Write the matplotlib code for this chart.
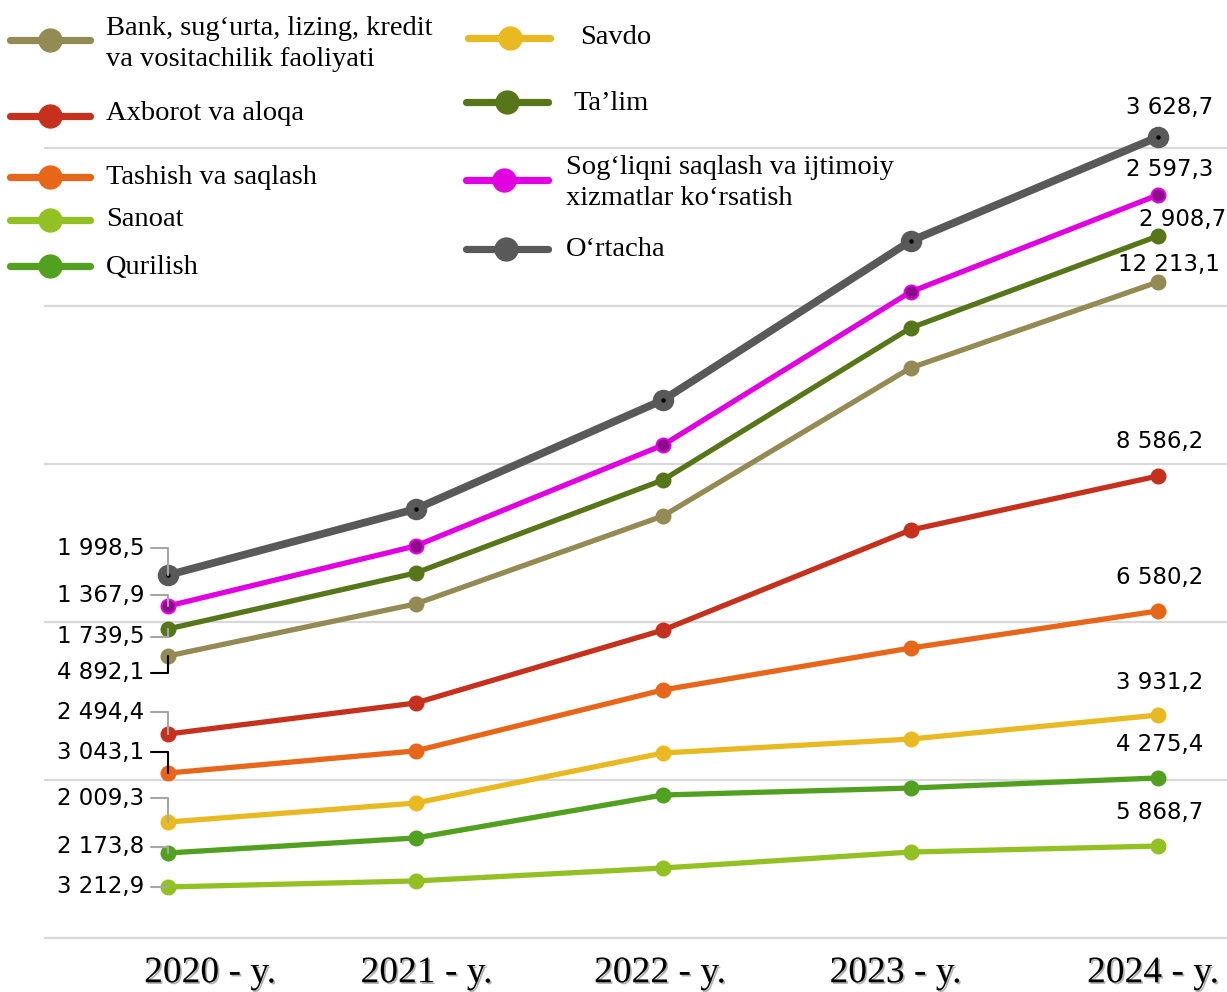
import matplotlib
matplotlib.use("Agg")
import matplotlib.pyplot as plt
import matplotlib.patheffects as pe

# ---------------- data ----------------
years = ["2020 - y.", "2021 - y.", "2022 - y.", "2023 - y.", "2024 - y."]

series_names = [
    "Bank, sug\u2018urta, lizing, kredit\nva vositachilik faoliyati",
    "Axborot va aloqa",
    "Tashish va saqlash",
    "Sanoat",
    "Qurilish",
    "Savdo",
    "Ta\u2019lim",
    "Sog\u2018liqni saqlash va ijtimoiy\nxizmatlar ko\u2018rsatish",
    "O\u2018rtacha",
]

# chart positions (as drawn in the picture, arbitrary units)
bank     = [1.785, 2.114, 2.671, 3.608, 4.152]
axborot  = [1.291, 1.487, 1.949, 2.582, 2.924]
tashish  = [1.044, 1.184, 1.570, 1.835, 2.070]
sanoat   = [0.323, 0.361, 0.443, 0.544, 0.582]
qurilish = [0.538, 0.633, 0.905, 0.949, 1.013]
savdo    = [0.734, 0.854, 1.171, 1.259, 1.411]
talim    = [1.956, 2.310, 2.899, 3.861, 4.443]
sogliq   = [2.101, 2.481, 3.120, 4.089, 4.703]
ortacha  = [2.297, 2.715, 3.405, 4.411, 5.070]

series_values = [bank, axborot, tashish, sanoat, qurilish, savdo, talim, sogliq, ortacha]

start_labels = ["4 892,1", "2 494,4", "3 043,1", "3 212,9", "2 173,8",
                "2 009,3", "1 739,5", "1 367,9", "1 998,5"]
end_labels = ["12 213,1", "8 586,2", "6 580,2", "5 868,7", "4 275,4",
              "3 931,2", "2 908,7", "2 597,3", "3 628,7"]

# ---------------- styles ----------------
colors = ["#948a54", "#c5311c", "#e8661a", "#93c123", "#52a020",
          "#e8b920", "#57761a", "#e000e0", "#595959"]
line_w = [3.8, 3.8, 3.8, 3.8, 3.8, 3.8, 3.8, 3.8, 5.6]
mark_s = [10, 10, 10, 10, 10, 10, 10, 10, 14]
mark_face = [None] * 7 + ["#8b0b8b", None]

# label offsets in pixels (dx, dy)
start_off = [(-24, -17), (-24, 22), (-24, 21), (-24, 0), (-24, 6),
             (-24, 24), (-24, -8), (-24, 11), (-24, 27)]
leader_col = ["black", "#a6a6a6", "black", "#a6a6a6", "#a6a6a6",
              "#a6a6a6", "#a6a6a6", "#a6a6a6", "#a6a6a6"]
end_off = [(11, 17), (2, 35), (2, 33), (2, 34), (2, 33),
           (2, 33), (25, 17), (12, 25), (12, 29)]
year_dx = [42, 11, -3, -15, -5]

# legend layout (figure pixels): handle x0, x1, marker x, handle y, text x, text y
legend_layout = [
    (10, 90, 50, 40, 106, 44),
    (10, 90, 50, 116, 106, 114),
    (10, 90, 50, 177, 106, 178),
    (10, 90, 50, 220, 106, 220),
    (10, 90, 50, 266, 106, 268),
    (468, 550, 510, 38, 580, 37),
    (466, 548, 507, 102, 573, 104),
    (466, 548, 504, 180, 566, 183),
    (466, 548, 506, 249, 566, 250),
]

W, H = 1227, 992
DPI = 100
fig = plt.figure(figsize=(W / DPI, H / DPI), dpi=DPI)
ax = fig.add_axes([0, 0, 1, 1])

unit = 158.0
step = 247.5
x0px = 168.0
ax.set_ylim(-(H - 938) / unit, 938 / unit)
ax.set_xlim(-x0px / step, (W - x0px) / step)
ax.axis("off")

for g in range(0, 6):
    ax.axhline(g, xmin=45 / W, xmax=1.0, color="#d9d9d9", lw=1.6, zorder=1)

xs = list(range(len(years)))
num_kw = dict(family="DejaVu Sans", fontsize=16.5)

for i, vals in enumerate(series_values):
    mfc = mark_face[i] if mark_face[i] else colors[i]
    ax.plot(xs, vals, color=colors[i], lw=line_w[i], marker="o",
            markersize=mark_s[i], markerfacecolor=mfc,
            markeredgecolor=colors[i], markeredgewidth=1.5,
            solid_capstyle="round", zorder=3 + i * 0.01)
    if i == len(series_values) - 1:
        ax.plot(xs, vals, ls="none", marker="o", markersize=2.2,
                color="black", zorder=4)
    # start label
    dx, dy = start_off[i]
    ax.annotate(start_labels[i], xy=(xs[0], vals[0]), xytext=(dx, dy),
                textcoords="offset pixels", ha="right", va="center",
                zorder=5, **num_kw,
                arrowprops=dict(arrowstyle="-", color=leader_col[i], lw=1.5,
                                relpos=(1, 0.5), shrinkA=3, shrinkB=0,
                                connectionstyle="angle,angleA=0,angleB=90,rad=0"))
    # end label
    dx, dy = end_off[i]
    ax.annotate(end_labels[i], xy=(xs[-1], vals[-1]), xytext=(dx, dy),
                textcoords="offset pixels", ha="center", va="center",
                zorder=5, **num_kw)

for i, lab in enumerate(years):
    ax.annotate(lab, xy=(xs[i], 0), xytext=(year_dx[i], -35),
                textcoords="offset pixels", ha="center", va="center",
                fontsize=27, family="Liberation Serif", color="black",
                path_effects=[pe.withSimplePatchShadow(offset=(1.2, -1.2),
                                                       shadow_rgbFace="#7f7f7f",
                                                       alpha=0.6)])

# legend overlay
lax = fig.add_axes([0, 0, 1, 1])
lax.set_xlim(0, W)
lax.set_ylim(H, 0)
lax.axis("off")
for i, (hx0, hx1, mx, hy, tx, ty) in enumerate(legend_layout):
    lax.plot([hx0, hx1], [hy, hy], color=colors[i], lw=5.2, solid_capstyle="round")
    lax.plot([mx], [hy], marker="o", markersize=16.5, color=colors[i])
    lax.text(tx, ty, series_names[i], ha="left", va="center",
             family="Liberation Serif", fontsize=20.5, linespacing=1.3)

fig.savefig("out.png", dpi=DPI)
